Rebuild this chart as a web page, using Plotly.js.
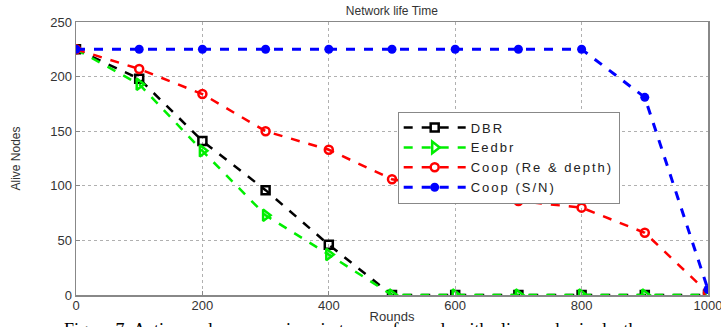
<!DOCTYPE html>
<html>
<head>
<meta charset="utf-8">
<script src="https://cdn.plot.ly/plotly-3.0.1.min.js"></script>
<style>html,body{margin:0;padding:0;background:#fff;overflow:hidden}#chart{width:721px;height:327px}
.legendtext{letter-spacing:2px}</style>
</head>
<body>
<div id="chart"></div>
<script>
const rounds = [0, 100, 200, 300, 400, 500, 600, 700, 800, 900, 1000];
const dbr = [225, 198, 141, 96, 46, 0, 0, 0, 0, 0, 0];
const eedbr = [225, 193, 132, 73, 37, 0, 0, 0, 0, 0, 0];
const coopReDepth = [225, 207, 184, 150, 133, 106, 96, 86, 80, 57, 2];
const coopSN = [225, 225, 225, 225, 225, 225, 225, 225, 225, 181, 5];
const seriesNames = ['DBR', 'Eedbr', 'Coop (Re & depth)', 'Coop (S/N)'];
const xTicks = [0, 200, 400, 600, 800, 1000];
const yTicks = [0, 50, 100, 150, 200, 250];

const font = 'Liberation Sans, Arial, sans-serif';
const traces = [
  {x: rounds, y: dbr, name: seriesNames[0], mode: 'lines+markers',
   line: {color: '#000000', width: 2.5, dash: 'dash'},
   marker: {symbol: 'square-open', size: 8, color: '#000000', line: {width: 2.5}}},
  {x: rounds, y: eedbr, name: seriesNames[1], mode: 'lines+markers',
   line: {color: '#00ee00', width: 2.5, dash: 'dash'},
   marker: {symbol: 'triangle-right-open', size: 10, color: '#00ee00', line: {width: 2.5}}},
  {x: rounds, y: coopReDepth, name: seriesNames[2], mode: 'lines+markers',
   line: {color: '#ff0000', width: 2.5, dash: 'dash'},
   marker: {symbol: 'circle-open', size: 8, color: '#ff0000', line: {width: 2.5}}},
  {x: rounds, y: coopSN, name: seriesNames[3], mode: 'lines+markers',
   line: {color: '#0000ff', width: 3, dash: 'dash'},
   marker: {symbol: 'circle', size: 9, color: '#0000ff'}}
];

const layout = {
  width: 721, height: 327,
  margin: {l: 76, r: 13, t: 22, b: 32},
  paper_bgcolor: '#ffffff', plot_bgcolor: '#ffffff',
  showlegend: true,
  title: {text: 'Network life Time', x: 0.5435, xanchor: 'center', y: 0.968, yanchor: 'middle',
          font: {family: font, size: 12, color: '#333333'}},
  xaxis: {
    range: [0, 1000], tickvals: xTicks, ticktext: xTicks.map(String),
    showgrid: true, gridcolor: '#b0b0b0', griddash: 'dot', gridwidth: 1,
    showline: true, linecolor: '#888888', linewidth: 1.5, mirror: true,
    ticks: 'inside', ticklen: 4, tickcolor: '#888888', ticklabeloverflow: 'allow',
    ticklabelstandoff: -2,
    zeroline: false, tickfont: {family: font, size: 13, color: '#333333'},
    title: {text: 'Rounds', standoff: 0, font: {family: font, size: 13, color: '#333333'}}
  },
  yaxis: {
    range: [0, 250], tickvals: yTicks, ticktext: yTicks.map(String),
    showgrid: true, gridcolor: '#b0b0b0', griddash: 'dot', gridwidth: 1,
    showline: true, linecolor: '#888888', linewidth: 1.5, mirror: true,
    ticks: 'inside', ticklen: 4, tickcolor: '#888888',
    zeroline: false, tickfont: {family: font, size: 13, color: '#333333'},
    title: {text: 'Alive Nodes', standoff: 27, font: {family: 'Liberation Sans Narrow, Arial Narrow, sans-serif', size: 12, color: '#333333'}}
  },
  legend: {
    x: 0.509, y: 0.672, xanchor: 'left', yanchor: 'top',
    bgcolor: '#ffffff', bordercolor: '#888888', borderwidth: 1,
    font: {family: font, size: 13, color: '#222222'},
    tracegroupgap: 0, itemwidth: 62
  },
  annotations: [{
    text: 'Figure 7: Active nodes comparison in terms of rounds with alive nodes in depth',
    xref: 'paper', yref: 'paper', x: -0.022, y: -0.085, xanchor: 'left', yanchor: 'top',
    showarrow: false, font: {family: 'Liberation Serif, Times New Roman, serif', size: 18, color: '#000000'}
  }]
};

Plotly.newPlot('chart', traces, layout, {staticPlot: true, displayModeBar: false});
</script>
</body>
</html>
